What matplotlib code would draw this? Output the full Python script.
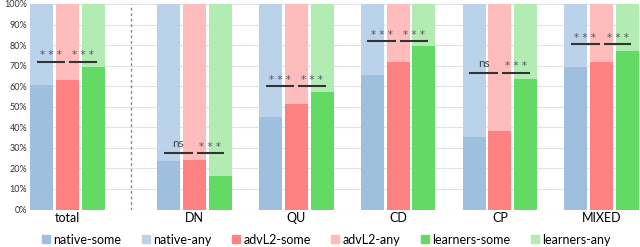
import matplotlib
matplotlib.use("Agg")
import matplotlib.pyplot as plt
from matplotlib.patches import Patch

plt.rcParams['font.family'] = ['Lato', 'DejaVu Sans']

categories = ["total", "DN", "QU", "CD", "CP", "MIXED"]
native_some = [60.6, 23.7, 45.2, 65.4, 35.4, 69.2]
advL2_some = [63.0, 24.0, 51.3, 71.6, 38.2, 72.0]
learners_some = [69.2, 16.4, 57.3, 79.6, 63.5, 77.3]
bracket_y = [72.0, 27.3, 60.0, 82.0, 66.6, 80.5]
sig_left = ["***", "ns", "***", "***", "ns", "***"]
sig_right = ["***", "***", "***", "***", "***", "***"]
ymax = 100

positions = [0, 1.25, 2.25, 3.25, 4.25, 5.25]
step = 0.253
width = 0.227

colors_some = ["#9fbfdf", "#ff8282", "#63da63"]
colors_any = ["#bad2ea", "#ffbcbc", "#b2ecb2"]
labels = ["native", "advL2", "learners"]

fig = plt.figure(figsize=(6.4, 2.47), dpi=100)
ax = fig.add_axes([30/640, 37.5/247, 609/640, 205.5/247])

series = [native_some, advL2_some, learners_some]
for k, vals in enumerate(series):
    xs = [p + (k - 1) * step for p in positions]
    ax.bar(xs, vals, width=width, color=colors_some[k], zorder=2)
    ax.bar(xs, [ymax - v for v in vals], bottom=vals, width=width,
           color=colors_any[k], zorder=2)

u = 1 / 101.5
for i, p in enumerate(positions):
    cn, ca, cl = p - step, p, p + step
    y = bracket_y[i]
    x1a, x1b = cn - 5 * u, ca - 2 * u
    x2a, x2b = ca + 2 * u, cl + 4 * u
    ax.plot([x1a, x1b], [y, y], color="#333333", lw=1.5, zorder=3,
            solid_capstyle="butt")
    ax.plot([x2a, x2b], [y, y], color="#333333", lw=1.5, zorder=3,
            solid_capstyle="butt")
    for (xa, xb), s in (((x1a, x1b), sig_left[i]), ((x2a, x2b), sig_right[i])):
        if s == "ns":
            ax.text((xa + xb) / 2, y + 2.0, s, ha="center", va="bottom",
                    fontsize=8.5, color="#444444", zorder=4)
        else:
            ax.text((xa + xb) / 2, y + 0.6, " ".join(s), ha="center", va="bottom",
                    fontsize=7.5, color="#555a66", family="DejaVu Sans", zorder=4)

ax.axvline((positions[0] + positions[1]) / 2 - 0.0, color="#888888",
           lw=1.0, ls=(0, (2, 2)), zorder=1)

ax.set_xlim(positions[0] - step - width / 2, positions[-1] + step + width / 2)
ax.set_ylim(0, 100)
ax.set_yticks(range(0, 101, 10))
ax.set_yticklabels([f"{v}%" for v in range(0, 101, 10)], fontsize=6.5, color="#333333")
ax.set_xticks(positions)
ax.set_xticklabels(categories, fontsize=9)
ax.tick_params(length=0, pad=2)
ax.tick_params(axis="x", pad=1.5)
ax.grid(axis="y", color="#e3e3e3", lw=0.8, zorder=0)
ax.set_axisbelow(True)
for s in ax.spines.values():
    s.set_visible(False)

handles = []
names = []
for k in range(3):
    handles.append(Patch(color=colors_some[k]))
    names.append(f"{labels[k]}-some")
    handles.append(Patch(color=colors_any[k]))
    names.append(f"{labels[k]}-any")
fig.legend(handles, names, loc="center", bbox_to_anchor=(0.51, 0.03), ncol=6,
           frameon=False, fontsize=9, handlelength=0.65, handleheight=0.65,
           handletextpad=0.3, columnspacing=1.6)

fig.savefig("out.png", dpi=100)
